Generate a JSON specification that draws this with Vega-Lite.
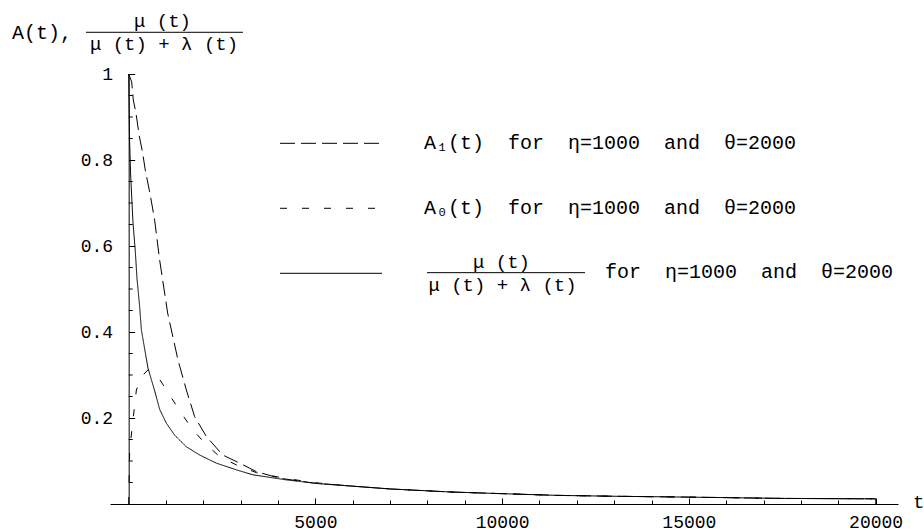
{
  "$schema": "https://vega.github.io/schema/vega-lite/v6.json",
  "width": 788,
  "height": 430,
  "autosize": "none",
  "padding": {"left": 110, "top": 74, "right": 26, "bottom": 26},
  "background": "white",
  "config": {
    "view": {"stroke": null},
    "font": "Liberation Mono",
    "text": {"font": "Liberation Mono", "fontSize": 20, "color": "black"},
    "rule": {"color": "black", "strokeWidth": 1},
    "axis": {"domainColor": "black", "tickColor": "black", "labelColor": "black", "labelFont": "Liberation Mono", "labelFontSize": 18, "grid": false, "title": null, "domainWidth": 1, "tickWidth": 1}
  },
  "layer": [
    {
      "data": {"values": [
        {"s": "A1", "t": 0, "v": 1.0},
        {"s": "A1", "t": 80, "v": 0.982},
        {"s": "A1", "t": 123, "v": 0.94},
        {"s": "A1", "t": 195, "v": 0.909},
        {"s": "A1", "t": 284, "v": 0.856},
        {"s": "A1", "t": 375, "v": 0.816},
        {"s": "A1", "t": 444, "v": 0.777},
        {"s": "A1", "t": 581, "v": 0.717},
        {"s": "A1", "t": 696, "v": 0.66},
        {"s": "A1", "t": 830, "v": 0.567},
        {"s": "A1", "t": 1044, "v": 0.444},
        {"s": "A1", "t": 1320, "v": 0.335},
        {"s": "A1", "t": 1545, "v": 0.265},
        {"s": "A1", "t": 1767, "v": 0.203},
        {"s": "A1", "t": 2080, "v": 0.157},
        {"s": "A1", "t": 2517, "v": 0.114},
        {"s": "A1", "t": 2972, "v": 0.095},
        {"s": "A1", "t": 3427, "v": 0.075},
        {"s": "A1", "t": 4043, "v": 0.06},
        {"s": "A1", "t": 4926, "v": 0.049},
        {"s": "A1", "t": 5917, "v": 0.042},
        {"s": "A1", "t": 7000, "v": 0.035},
        {"s": "A1", "t": 8600, "v": 0.028},
        {"s": "A1", "t": 10000, "v": 0.024},
        {"s": "A1", "t": 11500, "v": 0.02},
        {"s": "A1", "t": 13000, "v": 0.018},
        {"s": "A1", "t": 15000, "v": 0.016},
        {"s": "A1", "t": 17500, "v": 0.013},
        {"s": "A1", "t": 20000, "v": 0.012},
        {"s": "A0", "t": 0, "v": 0.0},
        {"s": "A0", "t": 27, "v": 0.126},
        {"s": "A0", "t": 115, "v": 0.195},
        {"s": "A0", "t": 206, "v": 0.265},
        {"s": "A0", "t": 340, "v": 0.296},
        {"s": "A0", "t": 517, "v": 0.312},
        {"s": "A0", "t": 784, "v": 0.296},
        {"s": "A0", "t": 1098, "v": 0.253},
        {"s": "A0", "t": 1411, "v": 0.211},
        {"s": "A0", "t": 1722, "v": 0.172},
        {"s": "A0", "t": 2035, "v": 0.142},
        {"s": "A0", "t": 2436, "v": 0.11},
        {"s": "A0", "t": 2884, "v": 0.091},
        {"s": "A0", "t": 3419, "v": 0.073},
        {"s": "A0", "t": 4043, "v": 0.062},
        {"s": "A0", "t": 4926, "v": 0.05},
        {"s": "A0", "t": 5917, "v": 0.042},
        {"s": "A0", "t": 7000, "v": 0.035},
        {"s": "A0", "t": 8600, "v": 0.028},
        {"s": "A0", "t": 10000, "v": 0.024},
        {"s": "A0", "t": 11500, "v": 0.02},
        {"s": "A0", "t": 13000, "v": 0.018},
        {"s": "A0", "t": 15000, "v": 0.016},
        {"s": "A0", "t": 17500, "v": 0.013},
        {"s": "A0", "t": 20000, "v": 0.012},
        {"s": "R", "t": 0, "v": 1.0},
        {"s": "R", "t": 20, "v": 0.86},
        {"s": "R", "t": 50, "v": 0.77},
        {"s": "R", "t": 115, "v": 0.655},
        {"s": "R", "t": 180, "v": 0.585},
        {"s": "R", "t": 222, "v": 0.525},
        {"s": "R", "t": 295, "v": 0.458},
        {"s": "R", "t": 340, "v": 0.405},
        {"s": "R", "t": 517, "v": 0.316},
        {"s": "R", "t": 700, "v": 0.262},
        {"s": "R", "t": 830, "v": 0.22},
        {"s": "R", "t": 1009, "v": 0.188},
        {"s": "R", "t": 1232, "v": 0.16},
        {"s": "R", "t": 1545, "v": 0.133},
        {"s": "R", "t": 1900, "v": 0.114},
        {"s": "R", "t": 2347, "v": 0.095},
        {"s": "R", "t": 2900, "v": 0.079},
        {"s": "R", "t": 3320, "v": 0.068},
        {"s": "R", "t": 4230, "v": 0.056},
        {"s": "R", "t": 5114, "v": 0.047},
        {"s": "R", "t": 5917, "v": 0.042},
        {"s": "R", "t": 7000, "v": 0.035},
        {"s": "R", "t": 8600, "v": 0.028},
        {"s": "R", "t": 10000, "v": 0.024},
        {"s": "R", "t": 11500, "v": 0.02},
        {"s": "R", "t": 13000, "v": 0.018},
        {"s": "R", "t": 15000, "v": 0.016},
        {"s": "R", "t": 17500, "v": 0.013},
        {"s": "R", "t": 20000, "v": 0.012},
        {"s": "R", "t": 20000, "v": 0.0}
      ]},
      "mark": {"type": "line", "color": "black", "strokeWidth": 1},
      "encoding": {
        "x": {
          "field": "t", "type": "quantitative",
          "scale": {"domain": [-500, 20600], "nice": false, "zero": false},
          "axis": {
            "values": [1000, 2000, 3000, 4000, 5000, 6000, 7000, 8000, 9000, 10000, 11000, 12000, 13000, 14000, 15000, 16000, 17000, 18000, 19000, 20000],
            "format": "d",
            "labelExpr": "datum.value % 5000 === 0 ? datum.label : ''",
            "tickSize": {"condition": {"test": "datum.value % 5000 === 0", "value": -6}, "value": -4},
            "labelPadding": 15,
            "labelOverlap": false,
            "labelFlush": false,
            "title": null
          }
        },
        "y": {
          "field": "v", "type": "quantitative",
          "scale": {"domain": [0, 1], "nice": false, "zero": false},
          "axis": {
            "values": [0.2, 0.4, 0.6, 0.8, 1],
            "format": ".1~f",
            "offset": -18.67,
            "tickSize": -6,
            "labelPadding": 22,
            "labelOverlap": false,
            "labelFlush": false,
            "title": null
          }
        },
        "strokeDash": {
          "field": "s", "type": "nominal",
          "scale": {"domain": ["A1", "A0", "R"], "range": [[15, 6], [7, 15], [1, 0]]},
          "legend": null
        }
      }
    },
    {
      "data": {"values": [
        {"m": 0.05}, {"m": 0.1}, {"m": 0.15}, {"m": 0.25}, {"m": 0.3}, {"m": 0.35},
        {"m": 0.45}, {"m": 0.5}, {"m": 0.55}, {"m": 0.65}, {"m": 0.7}, {"m": 0.75},
        {"m": 0.85}, {"m": 0.9}, {"m": 0.95}
      ]},
      "mark": {"type": "rule", "color": "black", "strokeWidth": 1},
      "encoding": {"x": {"datum": 0}, "x2": {"datum": 107}, "y": {"field": "m", "type": "quantitative"}}
    },
    {
      "data": {"values": [{}]},
      "mark": {"type": "text", "text": "A(t),", "align": "left", "baseline": "middle", "fontSize": 20, "font": "Liberation Mono"},
      "encoding": {"x": {"datum": -3124}, "y": {"datum": 1.0953}}
    },
    {
      "data": {"values": [{}]},
      "mark": {"type": "text", "text": "μ (t)", "align": "center", "baseline": "middle", "fontSize": 19, "font": "Liberation Mono"},
      "encoding": {"x": {"datum": 906}, "y": {"datum": 1.124}}
    },
    {
      "data": {"values": [{}]},
      "mark": {"type": "rule", "color": "black", "strokeWidth": 1},
      "encoding": {"x": {"datum": -1143}, "x2": {"datum": 3061}, "y": {"datum": 1.097}}
    },
    {
      "data": {"values": [{}]},
      "mark": {"type": "text", "text": "μ (t) + λ (t)", "align": "center", "baseline": "middle", "fontSize": 19, "font": "Liberation Mono"},
      "encoding": {"x": {"datum": 946}, "y": {"datum": 1.069}}
    },
    {
      "data": {"values": [{}]},
      "mark": {"type": "rule", "color": "black", "strokeWidth": 1, "strokeDash": [15, 6]},
      "encoding": {"x": {"datum": 4052}, "x2": {"datum": 6730}, "y": {"datum": 0.8388}}
    },
    {
      "data": {"values": [{}]},
      "mark": {"type": "text", "text": "A₁(t)\u00a0\u00a0for\u00a0\u00a0η=1000\u00a0\u00a0and\u00a0\u00a0θ=2000", "align": "left", "baseline": "middle", "fontSize": 20, "font": "Liberation Mono"},
      "encoding": {"x": {"datum": 7907}, "y": {"datum": 0.8395}}
    },
    {
      "data": {"values": [{}]},
      "mark": {"type": "rule", "color": "black", "strokeWidth": 1, "strokeDash": [7, 15]},
      "encoding": {"x": {"datum": 4052}, "x2": {"datum": 6730}, "y": {"datum": 0.6877}}
    },
    {
      "data": {"values": [{}]},
      "mark": {"type": "text", "text": "A₀(t)\u00a0\u00a0for\u00a0\u00a0η=1000\u00a0\u00a0and\u00a0\u00a0θ=2000", "align": "left", "baseline": "middle", "fontSize": 20, "font": "Liberation Mono"},
      "encoding": {"x": {"datum": 7907}, "y": {"datum": 0.6877}}
    },
    {
      "data": {"values": [{}]},
      "mark": {"type": "rule", "color": "black", "strokeWidth": 1},
      "encoding": {"x": {"datum": 4052}, "x2": {"datum": 6784}, "y": {"datum": 0.5365}}
    },
    {
      "data": {"values": [{}]},
      "mark": {"type": "text", "text": "μ (t)", "align": "center", "baseline": "middle", "fontSize": 19, "font": "Liberation Mono"},
      "encoding": {"x": {"datum": 9983}, "y": {"datum": 0.5635}}
    },
    {
      "data": {"values": [{}]},
      "mark": {"type": "rule", "color": "black", "strokeWidth": 1},
      "encoding": {"x": {"datum": 7988}, "x2": {"datum": 12219}, "y": {"datum": 0.538}}
    },
    {
      "data": {"values": [{}]},
      "mark": {"type": "text", "text": "μ (t) + λ (t)", "align": "center", "baseline": "middle", "fontSize": 19, "font": "Liberation Mono"},
      "encoding": {"x": {"datum": 10010}, "y": {"datum": 0.5093}}
    },
    {
      "data": {"values": [{}]},
      "mark": {"type": "text", "text": "for\u00a0\u00a0η=1000\u00a0\u00a0and\u00a0\u00a0θ=2000", "align": "left", "baseline": "middle", "fontSize": 20, "font": "Liberation Mono"},
      "encoding": {"x": {"datum": 12754}, "y": {"datum": 0.54}}
    },
    {
      "data": {"values": [{}]},
      "mark": {"type": "text", "text": "t", "align": "left", "baseline": "middle", "fontSize": 19, "font": "Liberation Mono"},
      "encoding": {"x": {"datum": 21002}, "y": {"datum": 0.0047}}
    }
  ]
}
